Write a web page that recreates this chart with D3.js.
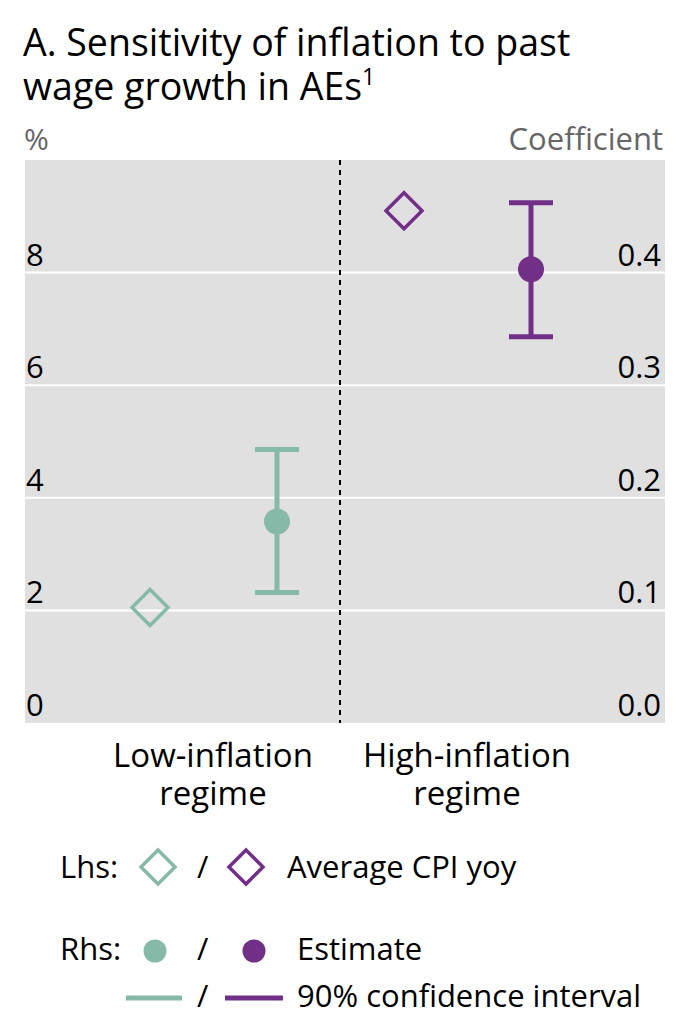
<!DOCTYPE html>
<html>
<head>
<meta charset="utf-8">
<script src="https://cdn.jsdelivr.net/npm/d3@7"></script>
<style>
  body { margin: 0; background: #fff; }
  text { font-family: "Open Sans", "Noto Sans", sans-serif; }
</style>
</head>
<body>
<div id="chart"></div>
<script>
// categories and values
var regimes = ["Low-inflation regime", "High-inflation regime"];
var regimeLines = [["Low-inflation", "regime"], ["High-inflation", "regime"]];
var avgCpi = [2.05, 9.1];          // lhs, %
var estimate = [0.179, 0.403];     // rhs, coefficient
var ciLow = [0.116, 0.343];
var ciHigh = [0.243, 0.462];
var lhsTicks = [0, 2, 4, 6, 8];
var rhsTicks = [0, 0.1, 0.2, 0.3, 0.4];
var colors = ["#87b9a8", "#722f87"];

var W = 692, H = 1036;
var plot = { left: 25, right: 665, top: 160, bottom: 723 };

var svg = d3.select("#chart").append("svg").attr("width", W).attr("height", H);

// 标题
var title = svg.append("text").attr("x", 23).attr("y", 56).attr("font-size", 37.5).attr("fill", "#000");
title.append("tspan").attr("x", 23).attr("y", 56).text("A. Sensitivity of inflation to past");
title.append("tspan").attr("x", 23).attr("y", 100).text("wage growth in AEs");
title.append("tspan").attr("font-size", 23).attr("dy", -15).text("1");

svg.append("text").attr("x", 24).attr("y", 150).attr("font-size", 30).attr("fill", "#666").text("%");
svg.append("text").attr("x", 663).attr("y", 150).attr("font-size", 31).attr("fill", "#666")
  .attr("text-anchor", "end").text("Coefficient");

var yL = d3.scaleLinear().domain([0, 10]).range([plot.bottom, plot.top]);
var yR = d3.scaleLinear().domain([0, 0.5]).range([plot.bottom, plot.top]);
var x = d3.scaleBand().domain(regimes).range([86, 594]);
var xs = d3.scalePoint().domain(["avg", "est"]).range([-63, 64]);

svg.append("rect").attr("x", plot.left).attr("y", plot.top)
  .attr("width", plot.right - plot.left).attr("height", plot.bottom - plot.top).attr("fill", "#e0e0e0");

// 网格线
svg.selectAll("line.grid").data(lhsTicks.filter(function(d){ return d > 0; })).enter().append("line")
  .attr("class", "grid")
  .attr("x1", plot.left).attr("x2", plot.right)
  .attr("y1", function(d){ return yL(d); }).attr("y2", function(d){ return yL(d); })
  .attr("stroke", "#fff").attr("stroke-width", 2);

// 分隔虚线
var sep = x(regimes[1]);
svg.append("line").attr("x1", sep).attr("x2", sep).attr("y1", plot.top).attr("y2", plot.bottom)
  .attr("stroke", "#000").attr("stroke-width", 2).attr("stroke-dasharray", "5,5");

// 左右轴标签
svg.selectAll("text.lt").data(lhsTicks).enter().append("text")
  .attr("x", 26).attr("y", function(d){ return yL(d) - 7; })
  .attr("font-size", 31).text(function(d){ return d; });
svg.selectAll("text.rt").data(rhsTicks).enter().append("text")
  .attr("x", 661).attr("y", function(d){ return yR(d) - 7; })
  .attr("font-size", 31).attr("text-anchor", "end").text(function(d){ return d.toFixed(1); });

// 类别标签
regimes.forEach(function(r, i){
  var cx = x(r) + x.bandwidth() / 2;
  regimeLines[i].forEach(function(s, j){
    svg.append("text").attr("x", cx).attr("y", 767 + j * 38).attr("font-size", 33)
      .attr("text-anchor", "middle").text(s);
  });
});

function diamond(g, cx, cy, r, color) {
  g.append("path")
    .attr("d", "M" + cx + "," + (cy - r) + "L" + (cx + r) + "," + cy + "L" + cx + "," + (cy + r) + "L" + (cx - r) + "," + cy + "Z")
    .attr("fill", "none").attr("stroke", color).attr("stroke-width", 3.5);
}

var marks = svg.append("g");
regimes.forEach(function(r, i){
  var c = x(r) + x.bandwidth() / 2;
  diamond(marks, c + xs("avg"), yL(avgCpi[i]), 18, colors[i]);
  var ex = c + xs("est");
  marks.append("line").attr("x1", ex).attr("x2", ex).attr("y1", yR(ciLow[i])).attr("y2", yR(ciHigh[i]))
    .attr("stroke", colors[i]).attr("stroke-width", 5);
  [ciLow[i], ciHigh[i]].forEach(function(v){
    marks.append("line").attr("x1", ex - 22).attr("x2", ex + 22).attr("y1", yR(v)).attr("y2", yR(v))
      .attr("stroke", colors[i]).attr("stroke-width", 5);
  });
  marks.append("circle").attr("cx", ex).attr("cy", yR(estimate[i])).attr("r", 13).attr("fill", colors[i]);
});

// 图例
var lg = svg.append("g").attr("font-size", 31);
lg.append("text").attr("x", 60).attr("y", 878).text("Lhs:");
diamond(lg, 158, 867, 17, colors[0]);
lg.append("text").attr("x", 197).attr("y", 878).text("/");
diamond(lg, 246, 867, 17, colors[1]);
lg.append("text").attr("x", 287).attr("y", 878).text("Average CPI yoy");

lg.append("text").attr("x", 60).attr("y", 960).text("Rhs:");
lg.append("circle").attr("cx", 155).attr("cy", 951).attr("r", 11.5).attr("fill", colors[0]);
lg.append("text").attr("x", 197).attr("y", 960).text("/");
lg.append("circle").attr("cx", 254).attr("cy", 951).attr("r", 11.5).attr("fill", colors[1]);
lg.append("text").attr("x", 297).attr("y", 960).text("Estimate");

lg.append("line").attr("x1", 126).attr("x2", 182).attr("y1", 998).attr("y2", 998)
  .attr("stroke", colors[0]).attr("stroke-width", 5);
lg.append("text").attr("x", 197).attr("y", 1007).text("/");
lg.append("line").attr("x1", 225).attr("x2", 283).attr("y1", 998).attr("y2", 998)
  .attr("stroke", colors[1]).attr("stroke-width", 5);
lg.append("text").attr("x", 297).attr("y", 1007).text("90% confidence interval");
</script>
</body>
</html>
